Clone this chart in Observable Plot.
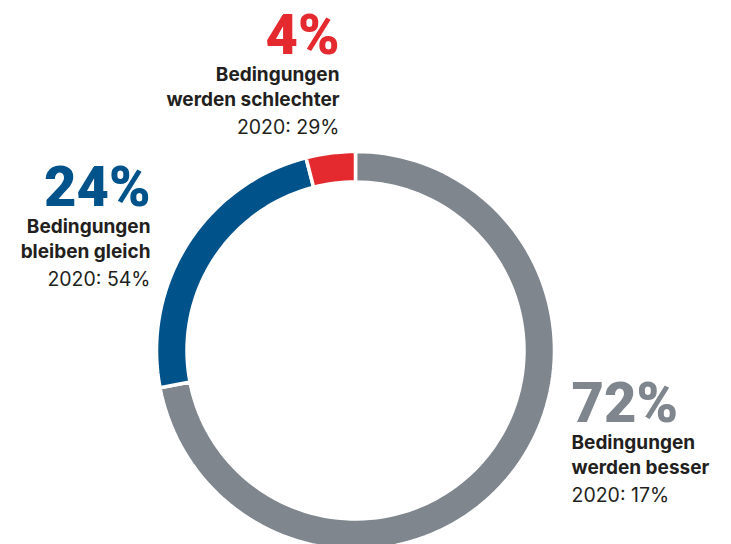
<!DOCTYPE html>
<html>
<head>
<meta charset="utf-8">
<script src="https://cdn.jsdelivr.net/npm/d3@7"></script>
<script src="https://cdn.jsdelivr.net/npm/@observablehq/plot@0.6"></script>
<style>
  html, body { margin: 0; padding: 0; background: #fff; }
  #chart { width: 731px; height: 544px; overflow: hidden; }
</style>
</head>
<body>
<div id="chart"></div>
<script>
// ---- data ----
const categories = ["werden besser", "bleiben gleich", "werden schlechter"];
const share2021 = [72, 24, 4];
const share2020 = [17, 54, 29];
const headLine = "Bedingungen";
const colors = ["#7f868d", "#00528a", "#e52a2f"];

// ---- geometry (layout) ----
const R_OUT = 199, R_IN = 168.5, STEPS = 160;
const total = d3.sum(share2021);
let cum = 0;
const ringPts = [];
categories.forEach((c, i) => {
  const a0 = cum / total * 2 * Math.PI;
  cum += share2021[i];
  const a1 = cum / total * 2 * Math.PI;
  const n = Math.max(4, Math.round(STEPS * (a1 - a0) / (2 * Math.PI)) + 2);
  for (let k = 0; k <= n; k++) {
    const a = a0 + (a1 - a0) * k / n;
    ringPts.push({cat: c, x: R_OUT * Math.sin(a), y: R_OUT * Math.cos(a)});
  }
  for (let k = n; k >= 0; k--) {
    const a = a0 + (a1 - a0) * k / n;
    ringPts.push({cat: c, x: R_IN * Math.sin(a), y: R_IN * Math.cos(a)});
  }
});

// label anchors (layout)
const labelPos = [
  {x: 216, y: -71, anchor: "start"},
  {x: -205, y: 145, anchor: "end"},
  {x: -16, y: 297, anchor: "end"}
];
const lineOffsets = [0, -27, -52, -80];

const texts = [];
categories.forEach((c, i) => {
  const p = labelPos[i];
  texts.push({cat: c, kind: "big", text: `${share2021[i]}%`, x: p.x, y: p.y + lineOffsets[0], anchor: p.anchor});
  texts.push({cat: c, kind: "bold", text: headLine, x: p.x, y: p.y + lineOffsets[1], anchor: p.anchor});
  texts.push({cat: c, kind: "bold", text: c, x: p.x, y: p.y + lineOffsets[2], anchor: p.anchor});
  texts.push({cat: c, kind: "reg", text: `2020: ${share2020[i]}%`, x: p.x, y: p.y + lineOffsets[3], anchor: p.anchor});
});

const font = "Inter, Lato, sans-serif";
const bigFont = "Roboto, Inter, sans-serif";
const textMarks = [];
for (const anchor of ["start", "end"]) {
  textMarks.push(Plot.text(texts.filter(d => d.anchor === anchor && d.kind === "big"), {
    x: "x", y: "y", text: "text", fill: "cat", textAnchor: anchor, lineAnchor: "bottom",
    fontSize: 56, fontWeight: 900, fontFamily: bigFont
  }));
  textMarks.push(Plot.text(texts.filter(d => d.anchor === anchor && d.kind === "bold"), {
    x: "x", y: "y", text: "text", fill: "#231f20", textAnchor: anchor, lineAnchor: "bottom",
    fontSize: 19, fontWeight: 700, fontFamily: font
  }));
  textMarks.push(Plot.text(texts.filter(d => d.anchor === anchor && d.kind === "reg"), {
    x: "x", y: "y", text: "text", fill: "#231f20", textAnchor: anchor, lineAnchor: "bottom",
    fontSize: 19.5, fontWeight: 400, fontFamily: font
  }));
}

const chart = Plot.plot({
  width: 731,
  height: 544,
  margin: 0,
  x: {domain: [-355, 376], axis: null},
  y: {domain: [-194, 350], axis: null},
  color: {domain: categories, range: colors},
  style: {background: "#fff", overflow: "hidden"},
  marks: [
    Plot.line(ringPts, {x: "x", y: "y", z: "cat", fill: "cat", stroke: "#fff", strokeWidth: 3.5, curve: "linear-closed"}),
    ...textMarks
  ]
});
document.getElementById("chart").appendChild(chart);
</script>
</body>
</html>
